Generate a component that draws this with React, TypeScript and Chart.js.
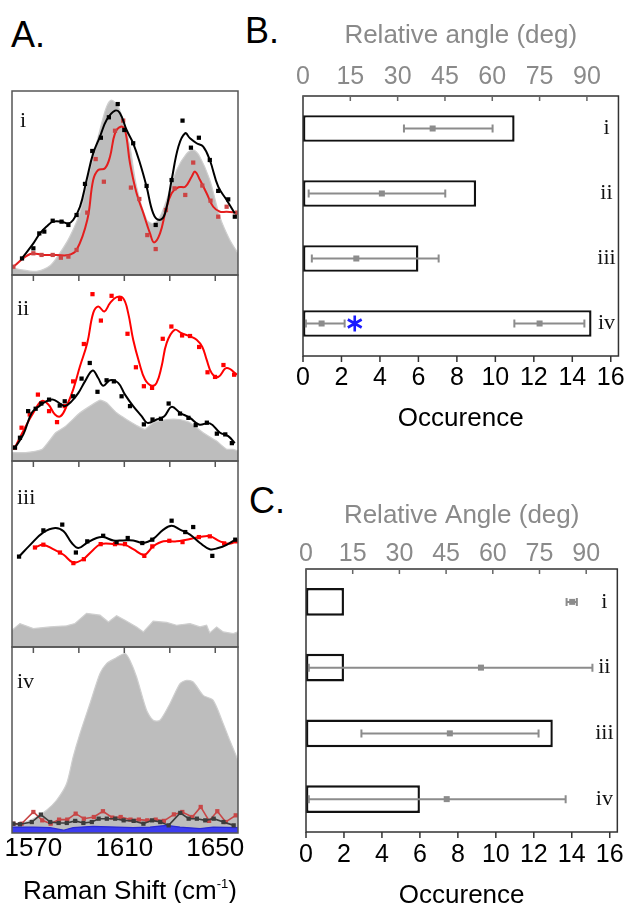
import React, { useEffect, useRef } from 'react';
import { Chart, registerables } from 'chart.js';

Chart.register(...registerables);

const SANS = '"Liberation Sans", Arial, Helvetica, sans-serif';
const SERIF = '"Liberation Serif", "Times New Roman", serif';

// ---------------- Panel A data (Raman shift, relative intensity 0-100 per sub-panel) ----------------
const ramanTicks = [1570, 1610, 1650];
const ramanMinorTicks = [1570, 1590, 1610, 1630, 1650];

// i
const grayX_i = [1560.6, 1564.1, 1571.4, 1577.3, 1581.7, 1586.1, 1590.5, 1594.9, 1599.3, 1602.2, 1604.4, 1607.3, 1610.3, 1612.5, 1615.4, 1619.8, 1622.7, 1625.7, 1628.6, 1633.0, 1637.4, 1640.3, 1643.2, 1647.6, 1652.0, 1656.4, 1660.0];
const grayY_i = [4, 3, 2, 5, 12, 21, 34, 57, 79, 91.5, 95, 91.5, 80.6, 69.7, 48, 30, 28, 31.7, 40.8, 57, 66, 68, 64.3, 51.6, 31.7, 19, 11.8];
const blackX_i = [1565.0, 1570.0, 1572.6, 1574.8, 1578.5, 1582.4, 1585.4, 1589.0, 1592.7, 1595.9, 1599.7, 1603.2, 1607.1, 1610.0, 1613.9, 1619.8, 1623.8, 1630.8, 1635.6, 1639.3, 1642.8, 1647.6, 1651.3, 1655.7, 1658.6];
const blackY_i = [9, 14.5, 22.6, 23.6, 29.5, 29, 27.2, 32.6, 49.5, 67.4, 74.6, 85.7, 92.9, 78.8, 71.6, 48.4, 27.2, 51.6, 83.9, 69.2, 74.6, 62.5, 45.7, 41.1, 31.7];
const blackFitX_i = [1565.0, 1570.0, 1572.9, 1575.8, 1578.7, 1582.4, 1585.4, 1587.5, 1590.5, 1593.4, 1596.3, 1599.3, 1602.2, 1605.9, 1608.1, 1611.0, 1613.9, 1616.9, 1619.8, 1622.7, 1625.4, 1627.9, 1630.8, 1633.8, 1636.7, 1638.9, 1641.8, 1644.7, 1647.6, 1651.3, 1655.0, 1658.6];
const blackFitY_i = [9.1, 17.2, 22.6, 26.3, 29.0, 29.0, 28.1, 29.9, 37.1, 51.6, 66.1, 75.2, 84.2, 89.3, 87.9, 78.8, 71.6, 60.7, 48.0, 33.5, 29.9, 33.5, 51.6, 69.8, 77.0, 74.3, 71.6, 69.8, 62.5, 48.0, 40.8, 33.5];
const redX_i = [1561.2, 1570.0, 1573.6, 1578.5, 1582.1, 1585.4, 1589.0, 1593.7, 1597.4, 1601.0, 1605.9, 1609.5, 1612.9, 1616.6, 1620.1, 1623.8, 1628.3, 1632.1, 1636.8, 1640.3, 1644.3, 1647.9, 1651.3, 1655.0, 1659.6];
const redY_i = [4.5, 11.8, 10.9, 10.9, 9.4, 10.0, 13.6, 33.9, 63.0, 50.7, 78.4, 83.9, 47.5, 41.3, 21.7, 14.1, 35.3, 47.1, 43.5, 61.1, 48.6, 40.4, 31.7, 37.1, 33.9];
const redFitX_i = [1561.2, 1568.6, 1574.4, 1580.2, 1585.4, 1589.0, 1593.7, 1596.3, 1598.5, 1601.5, 1603.7, 1605.9, 1608.4, 1610.3, 1612.5, 1615.4, 1618.4, 1621.3, 1623.1, 1625.7, 1628.3, 1630.8, 1633.8, 1636.8, 1639.6, 1641.1, 1643.3, 1646.2, 1649.1, 1652.1, 1655.0, 1659.6];
const redFitY_i = [4.5, 11.4, 10.9, 10.9, 10.9, 13.6, 29.9, 51.6, 57.1, 58.0, 64.3, 77.0, 80.6, 78.8, 60.7, 44.4, 33.5, 22.6, 17.7, 22.6, 35.3, 44.4, 47.7, 48.0, 53.4, 56.2, 51.6, 44.4, 37.1, 34.4, 34.4, 33.9];

// ii
const grayX_ii = [1560.6, 1566.6, 1573.9, 1579.8, 1584.2, 1590.5, 1594.9, 1599.3, 1602.2, 1606.6, 1611.0, 1615.4, 1619.1, 1622.7, 1628.6, 1634.5, 1638.9, 1644.7, 1650.6, 1655.0, 1657.9, 1660.0];
const grayY_ii = [4.5, 4.5, 6.3, 15.2, 18.7, 25.9, 29.5, 32.7, 31.3, 25.9, 22.3, 19.1, 17, 20.6, 22.3, 22.3, 20.6, 15.2, 10.7, 6.3, 6.3, 5.4];
const blackX_ii = [1561.9, 1564.1, 1567.7, 1571.0, 1573.5, 1576.9, 1581.6, 1583.8, 1587.5, 1591.2, 1594.8, 1598.2, 1602.2, 1605.4, 1608.8, 1612.5, 1618.6, 1622.4, 1626.1, 1629.5, 1634.5, 1638.2, 1641.4, 1646.3, 1650.7, 1654.4, 1657.3];
const blackY_ii = [7.2, 12.5, 26.8, 28.1, 30.9, 33.0, 29.8, 32.1, 34.8, 44.3, 52.7, 37.2, 43.4, 42.8, 34.8, 29.5, 19.7, 22.3, 22.7, 30.9, 25.5, 23.2, 19.3, 20.6, 14.7, 14.3, 9.6];
const blackFitX_ii = [1561.9, 1565.6, 1569.3, 1572.6, 1575.8, 1578.7, 1581.7, 1583.9, 1586.9, 1589.8, 1592.7, 1596.1, 1598.5, 1600.7, 1603.7, 1607.3, 1610.3, 1613.9, 1617.6, 1620.1, 1624.2, 1627.6, 1630.8, 1634.5, 1638.9, 1642.8, 1647.6, 1652.1, 1655.7, 1658.6];
const blackFitY_ii = [7.2, 14.3, 25.9, 29.5, 32.2, 33.0, 30.9, 29.5, 32.2, 36.6, 42.8, 48.7, 44.6, 40.5, 43.4, 42.0, 35.7, 29.5, 24.1, 20.5, 22.3, 24.1, 29.1, 25.9, 23.2, 19.6, 20.2, 15.2, 13.4, 9.6];
const redX_ii = [1561.9, 1564.8, 1568.4, 1572.0, 1576.9, 1580.4, 1583.8, 1587.5, 1592.2, 1596.0, 1599.7, 1604.4, 1608.1, 1611.4, 1615.1, 1618.6, 1622.2, 1626.9, 1630.7, 1635.4, 1638.9, 1642.9, 1646.6, 1649.9, 1653.6, 1658.3];
const redY_ii = [7.2, 17.9, 25, 35.7, 26.8, 20.9, 29.5, 42.8, 62.9, 89.7, 75.5, 88.8, 87.1, 68.4, 50.4, 40.2, 39.3, 65.7, 72.3, 67.5, 67.2, 61.3, 47.7, 45.2, 51.6, 46.4];
const redFitX_ii = [1561.9, 1566.3, 1570.0, 1573.6, 1576.6, 1579.5, 1582.0, 1584.6, 1587.5, 1590.5, 1593.7, 1596.3, 1598.5, 1601.2, 1603.7, 1606.6, 1609.5, 1611.7, 1613.9, 1616.6, 1619.1, 1622.0, 1624.2, 1626.4, 1628.6, 1632.1, 1635.2, 1638.9, 1641.8, 1644.3, 1646.2, 1648.4, 1651.3, 1655.0, 1659.6];
const redFitY_ii = [7.2, 17.9, 25.9, 32.2, 30.4, 25.0, 24.1, 29.5, 38.4, 50.9, 63.4, 79.5, 83.1, 80.4, 84.9, 88.1, 87.5, 79.5, 65.2, 52.7, 43.8, 40.5, 42.0, 50.9, 63.4, 70.5, 68.7, 67.0, 65.2, 61.3, 54.5, 47.3, 45.2, 50.0, 46.4];

// iii
const grayX_iii = [1560.6, 1564.1, 1570.0, 1577.3, 1584.6, 1588.3, 1593.4, 1599.3, 1603.0, 1606.6, 1610.3, 1615.4, 1618.4, 1622.7, 1628.6, 1633.0, 1638.9, 1643.3, 1646.2, 1647.6, 1650.6, 1653.5, 1657.9, 1660.0];
const grayY_iii = [9.0, 12.6, 9.9, 10.8, 11.4, 12.6, 18.1, 17.1, 13.5, 16.8, 14.4, 10.8, 8.1, 13.9, 13.2, 11.7, 12.6, 10.8, 11.7, 7.6, 10.8, 8.1, 7.2, 8.1];
const blackX_iii = [1563.7, 1574.4, 1582.7, 1588.7, 1593.7, 1600.7, 1606.6, 1611.5, 1617.9, 1622.3, 1630.8, 1636.8, 1640.3, 1648.7, 1658.8];
const blackY_iii = [48.6, 62.7, 65.8, 50.8, 56.8, 59.8, 56.4, 58.6, 55.9, 57.7, 67.9, 61.8, 64.5, 49.0, 57.7];
const blackFitX_iii = [1563.7, 1568.6, 1574.4, 1579.6, 1583.3, 1586.9, 1589.8, 1593.4, 1597.8, 1600.7, 1605.2, 1609.5, 1613.9, 1618.4, 1622.7, 1627.2, 1630.8, 1634.5, 1638.9, 1643.3, 1647.6, 1651.3, 1655.0, 1658.8];
const blackFitY_iii = [48.6, 54.9, 61.6, 64.0, 62.2, 55.9, 53.2, 55.9, 58.6, 59.1, 57.3, 57.3, 57.3, 55.9, 58.1, 63.1, 65.2, 63.1, 60.4, 55.9, 52.6, 53.2, 54.9, 57.7];
const redX_iii = [1570.7, 1574.4, 1581.7, 1587.6, 1592.2, 1599.6, 1605.9, 1610.3, 1618.8, 1622.3, 1629.8, 1635.6, 1642.8, 1647.6, 1653.9, 1659.4];
const redY_iii = [53.5, 55.0, 50.8, 45.1, 47.2, 55.3, 55.3, 55.3, 49.0, 54.1, 57.1, 56.4, 59.1, 59.5, 55.7, 56.8];
const redFitX_iii = [1570.7, 1574.4, 1578.7, 1583.3, 1587.5, 1591.9, 1595.6, 1599.6, 1605.9, 1610.3, 1613.9, 1618.8, 1622.7, 1627.2, 1633.0, 1637.4, 1643.3, 1647.6, 1652.1, 1656.4, 1659.4];
const redFitY_iii = [53.5, 54.9, 52.6, 49.6, 45.4, 47.2, 51.4, 55.3, 55.3, 54.9, 52.6, 49.6, 54.1, 56.8, 56.8, 57.7, 59.1, 59.5, 56.8, 55.5, 56.8];

// iv
const grayX_iv = [1560.6, 1566.6, 1571.4, 1575.8, 1580.2, 1584.6, 1587.5, 1590.5, 1594.9, 1599.3, 1602.2, 1605.9, 1610.3, 1612.5, 1615.4, 1619.8, 1622.7, 1625.7, 1630.1, 1634.5, 1637.4, 1640.3, 1644.7, 1649.1, 1653.5, 1656.4, 1660.0];
const grayY_iv = [5.0, 5.9, 8.6, 12.2, 17.6, 26.5, 40.9, 53.4, 69.6, 85.7, 91.1, 93.8, 96.5, 92.8, 83.9, 66.0, 60.6, 60.6, 69.6, 80.3, 82.1, 81.2, 74.0, 71.3, 58.8, 49.8, 39.1];
const blackX_iv = [1561.2, 1564.1, 1569.3, 1573.3, 1577.4, 1581.1, 1584.7, 1588.4, 1592.0, 1595.7, 1598.7, 1602.3, 1606.0, 1609.7, 1614.1, 1618.4, 1622.2, 1625.8, 1629.5, 1634.6, 1638.3, 1641.9, 1645.6, 1649.3, 1653.6, 1658.1];
const blackY_iv = [5.0, 4.7, 5.9, 9.9, 5.9, 5.4, 5.4, 6.5, 5.4, 5.9, 7.7, 7.7, 7.7, 6.8, 6.5, 5.0, 6.8, 5.9, 4.1, 10.8, 7.7, 7.7, 6.8, 7.7, 5.9, 4.1];
const redX_iv = [1561.2, 1564.8, 1570.0, 1573.9, 1577.6, 1581.3, 1584.9, 1588.6, 1592.2, 1596.6, 1600.6, 1604.7, 1608.4, 1612.7, 1616.4, 1620.1, 1623.8, 1627.4, 1631.8, 1635.5, 1639.9, 1643.6, 1647.3, 1650.9, 1654.6, 1659.0];
const redY_iv = [5.0, 5.0, 11.3, 6.8, 5.0, 7.2, 7.2, 10.4, 7.7, 8.6, 11.7, 8.3, 8.6, 7.2, 7.2, 6.8, 7.2, 6.5, 10.0, 11.3, 8.6, 14.0, 6.5, 11.7, 5.9, 9.5];
const blueX_iv = [1560.6, 1570.0, 1577.3, 1583.2, 1587.5, 1596.3, 1606.6, 1613.9, 1621.3, 1628.6, 1634.5, 1643.3, 1649.1, 1660.0];
const blueY_iv = [3.2, 3.2, 2.9, 1.5, 2.9, 3.6, 3.2, 2.9, 3.2, 4.1, 3.2, 2.4, 3.2, 2.9];

// ---------------- Panels B and C data ----------------
const categories = ['i', 'ii', 'iii', 'iv'];
const occurrenceTicks = [0, 2, 4, 6, 8, 10, 12, 14, 16];
const angleTicks = [0, 15, 30, 45, 60, 75, 90];

const occurrenceB = [11, 9, 6, 15];
const errCatB = [0, 1, 2, 3, 3];
const angleMeanB = [41.1, 25.0, 16.9, 5.9, 75.0];
const angleLowB = [32.0, 1.8, 2.8, 0.9, 67.0];
const angleHighB = [60.1, 45.1, 43.0, 13.2, 89.2];
const starCatB = 3;
const starAngleB = 16.4;

const occurrenceC = [2, 2, 13, 6];
const errCatC = [0, 1, 2, 3];
const angleMeanC = [85.5, 56.2, 46.2, 45.2];
const angleLowC = [83.7, 0.9, 17.8, 0.9];
const angleHighC = [87.0, 92.0, 74.7, 83.4];

// ---------------- helpers ----------------
type Series = [number[], number[]];
const xy = (s: Series) => s[0].map((x, i) => ({ x, y: s[1][i] }));

function setTicks(values: number[]) {
  return (scale: any) => {
    scale.ticks = values.map((v) => ({ value: v }));
  };
}
const plainLabel = (v: any) => String(v);

type SpecPanel = {
  label: string;
  labelDx: number;
  labelDy: number;
  gray: Series;
  black: Series;
  red: Series;
  blackFit?: Series;
  redFit?: Series;
  blue?: Series;
  grayTension: number;
  blackColor: string;
  redColor: string;
  redPointColor: string;
  topTicks: boolean;
  showAxis: boolean;
};

function spectrumPlugin(p: SpecPanel) {
  return {
    id: 'spectrumFrame',
    afterDraw(chart: any) {
      const { ctx, chartArea: a, scales } = chart;
      ctx.save();
      ctx.strokeStyle = '#555';
      ctx.lineWidth = 1.5;
      ctx.strokeRect(a.left, a.top, a.right - a.left, a.bottom - a.top);
      if (p.topTicks) {
        ctx.beginPath();
        for (const v of ramanMinorTicks) {
          const x = scales.x.getPixelForValue(v);
          ctx.moveTo(x, a.top);
          ctx.lineTo(x, a.top + 6);
        }
        ctx.stroke();
      }
      ctx.fillStyle = '#111';
      ctx.font = `22px ${SERIF}`;
      ctx.textAlign = 'left';
      ctx.textBaseline = 'alphabetic';
      ctx.fillText(p.label, a.left + p.labelDx, a.top + p.labelDy);
      ctx.restore();
    },
  };
}

function markerSet(s: Series, color: string, showLine: boolean, order: number) {
  return {
    data: xy(s),
    showLine,
    borderColor: color,
    backgroundColor: color,
    pointBackgroundColor: color,
    pointBorderWidth: 0,
    pointStyle: 'rect',
    pointRadius: 3,
    borderWidth: 1.6,
    tension: 0,
    fill: false,
    order,
  };
}

function fitSet(s: Series, color: string, order: number) {
  return {
    data: xy(s),
    borderColor: color,
    backgroundColor: color,
    pointRadius: 0,
    borderWidth: 2,
    tension: 0.4,
    fill: false,
    order,
  };
}

function spectrumConfig(p: SpecPanel, padBottom: number) {
  const datasets: any[] = [];
  const hasFit = !!(p.blackFit && p.redFit);
  datasets.push(markerSet(p.black, p.blackColor, !hasFit, 1));
  if (p.blackFit) datasets.push(fitSet(p.blackFit, p.blackColor, 2));
  datasets.push(markerSet(p.red, p.redPointColor, !hasFit, 3));
  if (p.redFit) datasets.push(fitSet(p.redFit, p.redColor, 4));
  datasets.push({
    data: xy(p.gray),
    borderColor: '#cfcfcf',
    backgroundColor: '#bdbdbd',
    borderWidth: 1.2,
    pointRadius: 0,
    tension: p.grayTension,
    fill: 'origin',
    order: 10,
  });
  if (p.blue) {
    datasets.push({
      data: xy(p.blue),
      borderColor: '#2a2ad0',
      backgroundColor: '#3c3cf0',
      borderWidth: 1.2,
      pointRadius: 0,
      tension: 0,
      fill: 'origin',
      order: 9,
    });
  }
  return {
    type: 'line',
    data: { datasets },
    options: {
      responsive: false,
      animation: false,
      events: [],
      layout: { padding: { left: 12, right: 12, top: 10, bottom: padBottom } },
      plugins: { legend: { display: false }, tooltip: { enabled: false } },
      scales: {
        x: {
          type: 'linear',
          min: 1560.6,
          max: 1660,
          display: p.showAxis,
          afterBuildTicks: setTicks(ramanTicks),
          grid: { display: false, drawTicks: false },
          border: { display: false },
          ticks: {
            color: '#000',
            font: { family: SANS, size: 26 },
            padding: 0,
            maxRotation: 0,
            autoSkip: false,
            callback: plainLabel,
          },
          afterFit: (s: any) => {
            if (p.showAxis) s.height = 34;
          },
        },
        y: { type: 'linear', min: 0, max: 100, display: false },
      },
    },
    plugins: [spectrumPlugin(p)],
  };
}

const panelsA: { top: number; h: number; spec: SpecPanel }[] = [
  {
    top: 91,
    h: 184,
    spec: {
      label: 'i', labelDx: 8, labelDy: 36,
      gray: [grayX_i, grayY_i], black: [blackX_i, blackY_i], red: [redX_i, redY_i],
      blackFit: [blackFitX_i, blackFitY_i], redFit: [redFitX_i, redFitY_i],
      grayTension: 0.3, blackColor: '#000', redColor: '#e41e1e', redPointColor: '#cc4444',
      topTicks: false, showAxis: false,
    },
  },
  {
    top: 275,
    h: 186,
    spec: {
      label: 'ii', labelDx: 5, labelDy: 40,
      gray: [grayX_ii, grayY_ii], black: [blackX_ii, blackY_ii], red: [redX_ii, redY_ii],
      blackFit: [blackFitX_ii, blackFitY_ii], redFit: [redFitX_ii, redFitY_ii],
      grayTension: 0.15, blackColor: '#000', redColor: '#ff0000', redPointColor: '#ff0000',
      topTicks: true, showAxis: false,
    },
  },
  {
    top: 461,
    h: 186,
    spec: {
      label: 'iii', labelDx: 5, labelDy: 43,
      gray: [grayX_iii, grayY_iii], black: [blackX_iii, blackY_iii], red: [redX_iii, redY_iii],
      blackFit: [blackFitX_iii, blackFitY_iii], redFit: [redFitX_iii, redFitY_iii],
      grayTension: 0, blackColor: '#000', redColor: '#ff0000', redPointColor: '#ff0000',
      topTicks: true, showAxis: false,
    },
  },
  {
    top: 647,
    h: 186,
    spec: {
      label: 'iv', labelDx: 5, labelDy: 41,
      gray: [grayX_iv, grayY_iv], black: [blackX_iv, blackY_iv], red: [redX_iv, redY_iv], blue: [blueX_iv, blueY_iv],
      grayTension: 0.25, blackColor: '#3c3c3c', redColor: '#c84646', redPointColor: '#c84646',
      topTicks: true, showAxis: true,
    },
  },
];

// ---------------- bar panels ----------------
type BarSpec = {
  occurrence: number[];
  errCat: number[];
  mean: number[];
  low: number[];
  high: number[];
  star?: { cat: number; angle: number };
  angleTitle: string;
  padLeft: number;
  padRight: number;
  topH: number;
  bottomH: number;
  titleTopPad: number;
  topTickPad: number;
  bottomTickPad: number;
  titleBottomPad: number;
  labelInset: number;
  barPct: number;
};

function barPlugin(b: BarSpec) {
  return {
    id: 'barExtras',
    afterDraw(chart: any) {
      const { ctx, chartArea: a, scales } = chart;
      const xs = scales.x;
      const x2 = scales.x2;
      const ys = scales.y;
      ctx.save();
      // error bars
      ctx.strokeStyle = '#8c8c8c';
      ctx.fillStyle = '#8c8c8c';
      ctx.lineWidth = 2;
      for (let i = 0; i < b.errCat.length; i++) {
        const y = ys.getPixelForValue(b.errCat[i]);
        const x0 = x2.getPixelForValue(b.low[i]);
        const x1 = x2.getPixelForValue(b.high[i]);
        const xm = x2.getPixelForValue(b.mean[i]);
        ctx.beginPath();
        ctx.moveTo(x0, y);
        ctx.lineTo(x1, y);
        ctx.moveTo(x0, y - 4);
        ctx.lineTo(x0, y + 4);
        ctx.moveTo(x1, y - 4);
        ctx.lineTo(x1, y + 4);
        ctx.stroke();
        ctx.fillRect(xm - 3, y - 3, 6, 6);
      }
      // asterisk
      if (b.star) {
        const cx = x2.getPixelForValue(b.star.angle);
        const cy = ys.getPixelForValue(b.star.cat);
        ctx.strokeStyle = '#1a1aff';
        ctx.lineWidth = 2.6;
        ctx.beginPath();
        for (let k = 0; k < 3; k++) {
          const ang = Math.PI / 2 + (k * Math.PI) / 3;
          const dx = Math.cos(ang) * 8;
          const dy = Math.sin(ang) * 8;
          ctx.moveTo(cx - dx, cy - dy);
          ctx.lineTo(cx + dx, cy + dy);
        }
        ctx.stroke();
      }
      // frame
      ctx.strokeStyle = '#333';
      ctx.lineWidth = 1.5;
      ctx.strokeRect(a.left, a.top, a.right - a.left, a.bottom - a.top);
      ctx.beginPath();
      for (const v of occurrenceTicks) {
        const x = xs.getPixelForValue(v);
        ctx.moveTo(x, a.bottom);
        ctx.lineTo(x, a.bottom + 6);
      }
      ctx.stroke();
      ctx.strokeStyle = '#666';
      ctx.beginPath();
      for (const v of angleTicks) {
        const x = x2.getPixelForValue(v);
        ctx.moveTo(x, a.top);
        ctx.lineTo(x, a.top + 5);
      }
      ctx.stroke();
      // roman labels
      ctx.fillStyle = '#111';
      ctx.font = `22px ${SERIF}`;
      ctx.textAlign = 'center';
      ctx.textBaseline = 'middle';
      categories.forEach((c, i) => {
        ctx.fillText(c, a.right - b.labelInset, ys.getPixelForValue(i));
      });
      ctx.restore();
    },
  };
}

function barConfig(b: BarSpec) {
  return {
    type: 'bar',
    data: {
      labels: categories,
      datasets: [
        {
          data: b.occurrence,
          xAxisID: 'x',
          yAxisID: 'y',
          backgroundColor: '#ffffff',
          borderColor: '#111111',
          borderWidth: 2.4,
          borderSkipped: false,
          barPercentage: b.barPct,
          categoryPercentage: 1,
        },
      ],
    },
    options: {
      indexAxis: 'y',
      responsive: false,
      animation: false,
      events: [],
      layout: { padding: { left: b.padLeft, right: b.padRight, top: 0, bottom: 0 } },
      plugins: { legend: { display: false }, tooltip: { enabled: false } },
      scales: {
        x: {
          type: 'linear',
          position: 'bottom',
          min: 0,
          max: 16.4,
          afterBuildTicks: setTicks(occurrenceTicks),
          grid: { display: false, drawTicks: false },
          border: { display: false },
          ticks: {
            color: '#000',
            font: { family: SANS, size: 25 },
            padding: b.bottomTickPad,
            maxRotation: 0,
            autoSkip: false,
            callback: plainLabel,
          },
          title: {
            display: true,
            text: 'Occurence',
            color: '#000',
            font: { family: SANS, size: 26 },
            padding: { top: 0, bottom: b.titleBottomPad },
          },
          afterFit: (s: any) => {
            s.height = b.bottomH;
          },
        },
        x2: {
          type: 'linear',
          position: 'top',
          min: 0,
          max: 100,
          afterBuildTicks: setTicks(angleTicks),
          grid: { display: false, drawTicks: false },
          border: { display: false },
          ticks: {
            color: '#8a8a8a',
            font: { family: SANS, size: 25 },
            padding: b.topTickPad,
            maxRotation: 0,
            autoSkip: false,
            callback: plainLabel,
          },
          title: {
            display: true,
            text: b.angleTitle,
            color: '#8a8a8a',
            font: { family: SANS, size: 26 },
            padding: { top: b.titleTopPad, bottom: 0 },
          },
          afterFit: (s: any) => {
            s.height = b.topH;
          },
        },
        y: { type: 'category', display: false, offset: true },
      },
    },
    plugins: [barPlugin(b)],
  };
}

const specB: BarSpec = {
  occurrence: occurrenceB,
  errCat: errCatB,
  mean: angleMeanB,
  low: angleLowB,
  high: angleHighB,
  star: { cat: starCatB, angle: starAngleB },
  angleTitle: 'Relative angle (deg)',
  padLeft: 63,
  padRight: 10,
  topH: 96,
  bottomH: 80,
  titleTopPad: 20,
  topTickPad: 4,
  bottomTickPad: 7,
  titleBottomPad: 2,
  labelInset: 12,
  barPct: 0.41,
};

const specC: BarSpec = {
  occurrence: occurrenceC,
  errCat: errCatC,
  mean: angleMeanC,
  low: angleLowC,
  high: angleHighC,
  angleTitle: 'Relative Angle (deg)',
  padLeft: 66,
  padRight: 5,
  topH: 89,
  bottomH: 91,
  titleTopPad: 20,
  topTickPad: 0,
  bottomTickPad: 8,
  titleBottomPad: 12,
  labelInset: 13,
  barPct: 0.42,
};

function ChartCanvas(props: { left: number; top: number; width: number; height: number; makeConfig: () => any }) {
  const ref = useRef<HTMLCanvasElement>(null);
  useEffect(() => {
    const chart = new Chart(ref.current as HTMLCanvasElement, props.makeConfig());
    return () => chart.destroy();
  }, []);
  return (
    <canvas
      ref={ref}
      width={props.width}
      height={props.height}
      style={{ position: 'absolute', left: props.left, top: props.top, width: props.width, height: props.height }}
    />
  );
}

const letterStyle: React.CSSProperties = {
  position: 'absolute',
  fontFamily: SANS,
  fontSize: 36,
  lineHeight: '36px',
  color: '#000',
  whiteSpace: 'nowrap',
};

export default function App() {
  return (
    <div
      style={{
        position: 'absolute',
        left: 0,
        top: 0,
        width: 632,
        height: 903,
        overflow: 'hidden',
        background: '#fff',
      }}
    >
      <div style={{ ...letterStyle, left: 11, top: 17 }}>A.</div>
      <div style={{ ...letterStyle, left: 245, top: 13 }}>B.</div>
      <div style={{ ...letterStyle, left: 249, top: 483 }}>C.</div>

      {panelsA.map((p, i) => (
        <ChartCanvas
          key={i}
          left={0}
          top={p.top - 10}
          width={250}
          height={p.spec.showAxis ? p.h + 10 + 34 : p.h + 20}
          makeConfig={() => spectrumConfig(p.spec, p.spec.showAxis ? 0 : 10)}
        />
      ))}

      <ChartCanvas left={240} top={0} width={392} height={436} makeConfig={() => barConfig(specB)} />
      <ChartCanvas left={240} top={480} width={392} height={443} makeConfig={() => barConfig(specC)} />

      <div
        style={{
          position: 'absolute',
          left: 0,
          top: 877,
          width: 260,
          textAlign: 'center',
          fontFamily: SANS,
          fontSize: 26,
          lineHeight: '26px',
          color: '#000',
          whiteSpace: 'nowrap',
        }}
      >
        Raman Shift (cm
        <span style={{ fontSize: 13, verticalAlign: '11px', lineHeight: 0 }}>-1</span>)
      </div>
    </div>
  );
}
